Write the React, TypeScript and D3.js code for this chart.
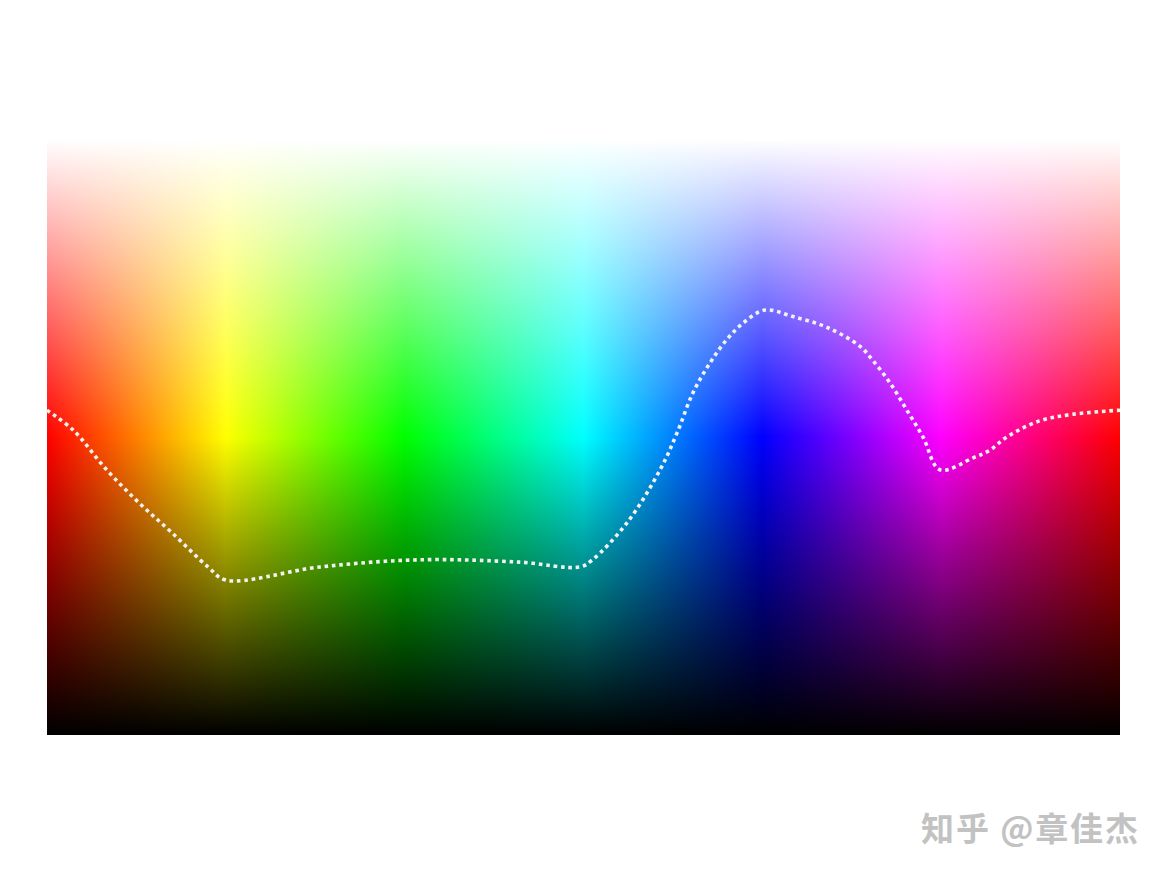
import React, { useEffect, useRef } from 'react';
import * as d3 from 'd3';

// hue stops of the fully saturated spectrum (degrees)
const hueStops = [0, 60, 120, 180, 240, 300, 360];

// dotted curve: hue (deg) vs lightness (0..1)
const curveHue = [
  0, 8.7, 20, 31, 42, 54, 60, 91.6, 125, 158.7, 178.8, 183, 194.6, 205.7, 211.4,
  216.7, 222.4, 228, 233.5, 240.9, 250.3, 261.7, 272.8, 277, 282.8, 288.5, 293.9,
  299.6, 310.7, 316.4, 322, 333, 344, 360,
];
const curveLightness = [
  0.545, 0.512, 0.445, 0.389, 0.339, 0.282, 0.26, 0.282, 0.294, 0.29, 0.282, 0.294,
  0.356, 0.445, 0.507, 0.574, 0.624, 0.663, 0.691, 0.713, 0.702, 0.684, 0.652, 0.629,
  0.591, 0.545, 0.5, 0.445, 0.465, 0.478, 0.5, 0.527, 0.538, 0.545,
];

const watermark = '知乎 @章佳杰';

const App: React.FC = () => {
  const svgRef = useRef<SVGSVGElement>(null);
  const width = 1167;
  const height = 875;

  useEffect(() => {
    if (!svgRef.current) return;
    const svg = d3.select(svgRef.current);
    svg.selectAll('*').remove();

    const margin = { top: 139, right: 47, bottom: 140, left: 47 };
    const innerWidth = width - margin.left - margin.right;
    const innerHeight = height - margin.top - margin.bottom;

    const xScale = d3.scaleLinear().domain([0, 360]).range([0, innerWidth]);
    const yScale = d3.scaleLinear().domain([0, 1]).range([innerHeight, 0]);

    const defs = svg.append('defs');

    // horizontal hue gradient
    const hueGrad = defs
      .append('linearGradient')
      .attr('id', 'hue')
      .attr('x1', 0)
      .attr('x2', 1)
      .attr('y1', 0)
      .attr('y2', 0);
    hueGrad
      .selectAll('stop')
      .data(hueStops)
      .enter()
      .append('stop')
      .attr('offset', d => xScale(d) / innerWidth)
      .attr('stop-color', d => d3.hsl(d % 360, 1, 0.5).toString());

    // vertical lightness overlay: white at top, black at bottom
    const lightGrad = defs
      .append('linearGradient')
      .attr('id', 'light')
      .attr('x1', 0)
      .attr('x2', 0)
      .attr('y1', 0)
      .attr('y2', 1);
    const lightStops = [
      { l: 1, color: '#fff', op: 1 },
      { l: 0.5, color: '#fff', op: 0 },
      { l: 0.5, color: '#000', op: 0 },
      { l: 0, color: '#000', op: 1 },
    ];
    lightGrad
      .selectAll('stop')
      .data(lightStops)
      .enter()
      .append('stop')
      .attr('offset', d => yScale(d.l) / innerHeight)
      .attr('stop-color', d => d.color)
      .attr('stop-opacity', d => d.op);

    const g = svg
      .append('g')
      .attr('transform', `translate(${margin.left},${margin.top})`);

    g.append('rect')
      .attr('width', innerWidth)
      .attr('height', innerHeight)
      .attr('fill', 'url(#hue)');
    g.append('rect')
      .attr('width', innerWidth)
      .attr('height', innerHeight)
      .attr('fill', 'url(#light)');

    const line = d3
      .line<number>()
      .x((_, i) => xScale(curveHue[i]))
      .y(d => yScale(d))
      .curve(d3.curveCatmullRom.alpha(0.5));

    g.append('path')
      .datum(curveLightness)
      .attr('fill', 'none')
      .attr('stroke', '#f2f2f2')
      .attr('stroke-width', 3.6)
      .attr('stroke-dasharray', '3.6,3.8')
      .attr('d', line);

    // watermark
    svg
      .append('text')
      .attr('x', 921)
      .attr('y', 841)
      .attr('font-family', '"Noto Sans CJK SC", sans-serif')
      .attr('font-size', 33)
      .attr('font-weight', 'bold')
      .attr('textLength', 217)
      .attr('fill', '#c2c2c2')
      .text(watermark);
  }, []);

  return (
    <div style={{ position: 'absolute', left: 0, top: 0, background: '#fff' }}>
      <svg ref={svgRef} width={width} height={height} style={{ display: 'block' }} />
    </div>
  );
};

export default App;
